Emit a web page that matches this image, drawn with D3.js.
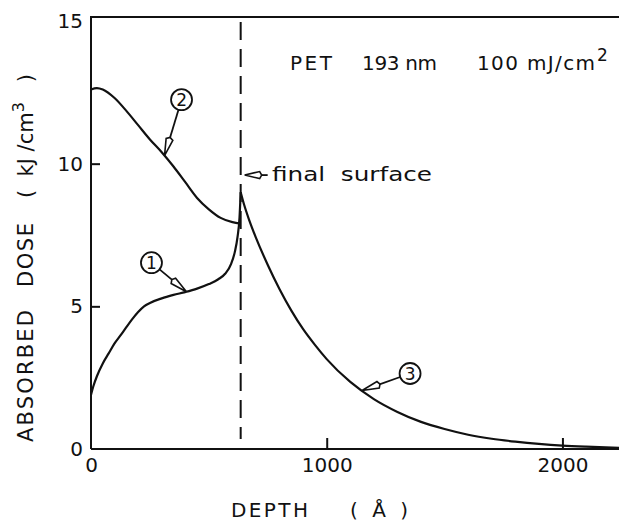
<!DOCTYPE html>
<html>
<head>
<meta charset="utf-8">
<script src="https://cdn.jsdelivr.net/npm/d3@7"></script>
<style>
  html, body { margin: 0; padding: 0; background: #fff; }
  svg { display: block; }
  text { font-family: "DejaVu Sans", sans-serif; fill: #111; }
</style>
</head>
<body>
<svg id="chart" width="619" height="524"></svg>
<script>
// ---- data (depth in angstrom, absorbed dose in kJ/cm3) ----
const curve1_depth = [0, 10, 25, 50, 75, 100, 125, 150, 175, 200, 225, 250, 300, 350, 400, 450, 500, 540, 570, 595, 610, 622, 630, 635];
const curve1_dose  = [1.9, 2.2, 2.55, 3.0, 3.35, 3.7, 3.98, 4.27, 4.55, 4.8, 5.0, 5.12, 5.28, 5.4, 5.5, 5.62, 5.78, 5.95, 6.15, 6.5, 6.9, 7.45, 8.1, 9.0];

const curve2_depth = [0, 25, 50, 100, 150, 200, 250, 300, 350, 400, 450, 500, 550, 600, 635];
const curve2_dose  = [12.6, 12.65, 12.6, 12.3, 11.85, 11.35, 10.85, 10.4, 9.9, 9.35, 8.8, 8.4, 8.1, 7.95, 7.9];

const curve3_depth = [635, 650, 670, 700, 750, 800, 850, 900, 950, 1000, 1100, 1200, 1300, 1400, 1500, 1600, 1700, 1800, 1900, 2000, 2100, 2240];
const curve3_dose  = [9.0, 8.55, 8.05, 7.4, 6.45, 5.6, 4.85, 4.2, 3.65, 3.15, 2.35, 1.75, 1.3, 0.95, 0.7, 0.5, 0.36, 0.26, 0.18, 0.12, 0.08, 0.04];

const surface_depth = 635;
const x_ticks = [0, 1000, 2000];
const y_ticks = [0, 5, 10, 15];

// which curve each circled label points at, and where on it
const label_names  = ["1", "2", "3"];
const label_depths = [405, 312, 1150];

// ---- layout ----
const svg = d3.select("#chart");
const margin = {left: 91, right: 0, top: 21, bottom: 75};
const W = 619, H = 524;

const x = d3.scaleLinear().domain([0, 2240]).range([margin.left, W - margin.right]);
const y = d3.scaleLinear().domain([0, 15]).range([H - margin.bottom, margin.top]);

const ink = "#111";

// frame: left, top, bottom
const frame = svg.append("g").attr("stroke", ink).attr("stroke-width", 2).attr("fill", "none");
frame.append("path").attr("d", `M${x(0)},${y(0)}V17H${W}`);
frame.append("path").attr("d", `M${x(0)},${y(0)}H${W}`);

// axes
const xAxis = svg.append("g")
  .attr("transform", `translate(0,${y(0)})`)
  .call(d3.axisBottom(x).tickValues(x_ticks).tickFormat(d3.format("d")).tickSize(-11).tickPadding(9));
const yAxis = svg.append("g")
  .attr("transform", `translate(${x(0)},0)`)
  .call(d3.axisLeft(y).tickValues(y_ticks).tickFormat(d3.format("d")).tickSize(-9).tickPadding(8));

[xAxis, yAxis].forEach(a => {
  a.select(".domain").remove();
  a.selectAll("line").attr("stroke", ink).attr("stroke-width", 2);
  a.selectAll("text").attr("font-size", 20).attr("font-family", "DejaVu Sans").attr("fill", ink);
});
xAxis.selectAll(".tick").filter(d => d === 0).select("line").remove();
yAxis.selectAll(".tick").filter(d => d === 0 || d === 15).select("line").remove();

// final surface dashed line
svg.append("line")
  .attr("x1", x(surface_depth)).attr("x2", x(surface_depth))
  .attr("y1", 22).attr("y2", y(0) - 10)
  .attr("stroke", ink).attr("stroke-width", 2)
  .attr("stroke-dasharray", "18,9");

// curves
const line = d3.line().x(d => x(d[0])).y(d => y(d[1])).curve(d3.curveMonotoneX);
const series = [
  d3.zip(curve1_depth, curve1_dose),
  d3.zip(curve2_depth, curve2_dose),
  d3.zip(curve3_depth, curve3_dose)
];
svg.append("g").selectAll("path").data(series).join("path")
  .attr("d", line)
  .attr("fill", "none").attr("stroke", ink).attr("stroke-width", 2.2);

// hollow arrow from (sx,sy) toward tip (tx,ty)
function arrow(g, sx, sy, tx, ty, headLen, halfW) {
  const dx = tx - sx, dy = ty - sy, len = Math.hypot(dx, dy);
  const ux = dx / len, uy = dy / len, nx = -uy, ny = ux;
  const bx = tx - ux * headLen, by = ty - uy * headLen;
  g.append("line").attr("x1", sx).attr("y1", sy).attr("x2", bx).attr("y2", by)
    .attr("stroke", ink).attr("stroke-width", 1.8);
  g.append("path")
    .attr("d", `M${tx},${ty}L${bx + nx * halfW},${by + ny * halfW}L${bx - ux * 2},${by - uy * 2}L${bx - nx * halfW},${by - ny * halfW}Z`)
    .attr("fill", "#fff").attr("stroke", ink).attr("stroke-width", 1.6);
}

// circled labels
const interp = (xs, ys, v) => {
  const i = d3.bisectRight(xs, v) - 1;
  const t = (v - xs[i]) / (xs[i + 1] - xs[i]);
  return ys[i] + t * (ys[i + 1] - ys[i]);
};
const offsets = [[-35, -29], [17, -56], [48, -17]];
const ann = svg.append("g");
label_names.forEach((name, i) => {
  const xs = [curve1_depth, curve2_depth, curve3_depth][i];
  const ys = [curve1_dose, curve2_dose, curve3_dose][i];
  const tx = x(label_depths[i]), ty = y(interp(xs, ys, label_depths[i]));
  const cx = tx + offsets[i][0], cy = ty + offsets[i][1], r = 10.5;
  const d = Math.hypot(tx - cx, ty - cy);
  arrow(ann, cx + (tx - cx) / d * r, cy + (ty - cy) / d * r, tx, ty, 17, 3.5);
  ann.append("circle").attr("cx", cx).attr("cy", cy).attr("r", r)
    .attr("fill", "#fff").attr("stroke", ink).attr("stroke-width", 1.8);
  ann.append("text").attr("x", cx).attr("y", cy + 6).attr("text-anchor", "middle")
    .attr("font-size", 17).text(name);
});

// final surface note
const fsY = y(9.6);
arrow(ann, x(surface_depth) + 27, fsY, x(surface_depth) + 4, fsY, 15, 3.5);
ann.append("text").attr("x", 272).attr("y", fsY + 6).attr("font-size", 20)
  .style("white-space", "pre")
  .attr("textLength", 160).attr("lengthAdjust", "spacingAndGlyphs").text("final  surface");

// title
const title = svg.append("g").attr("font-size", 20);
title.append("text").attr("x", 290).attr("y", 70).attr("textLength", 42).attr("lengthAdjust", "spacing").text("PET");
title.append("text").attr("x", 362).attr("y", 70).attr("textLength", 75).attr("lengthAdjust", "spacing").text("193 nm");
title.append("text").attr("x", 477).attr("y", 70).attr("textLength", 118).attr("lengthAdjust", "spacing").text("100 mJ/cm");
title.append("text").attr("x", 597).attr("y", 61).attr("font-size", 17).text("2");

// axis titles
const xt = svg.append("g").attr("font-size", 20);
xt.append("text").attr("x", 231).attr("y", 517).attr("textLength", 77).attr("lengthAdjust", "spacing").text("DEPTH");
xt.append("text").attr("x", 350).attr("y", 517).attr("textLength", 58).attr("lengthAdjust", "spacing")
  .style("white-space", "pre").text("(  Å  )");

const yt = svg.append("g").attr("font-size", 21).attr("transform", "translate(33,0) rotate(-90)");
yt.append("text").attr("x", -442).attr("y", 0).attr("textLength", 132).attr("lengthAdjust", "spacing").text("ABSORBED");
yt.append("text").attr("x", -287).attr("y", 0).attr("textLength", 64).attr("lengthAdjust", "spacing").text("DOSE");
const yu = yt.append("text").attr("x", -198).attr("y", 0).style("white-space", "pre");
yu.append("tspan").text("(  kJ /cm");
yu.append("tspan").attr("dy", -9).attr("font-size", 16).text("3");
yu.append("tspan").attr("dy", 9).text("   )");
</script>
</body>
</html>
